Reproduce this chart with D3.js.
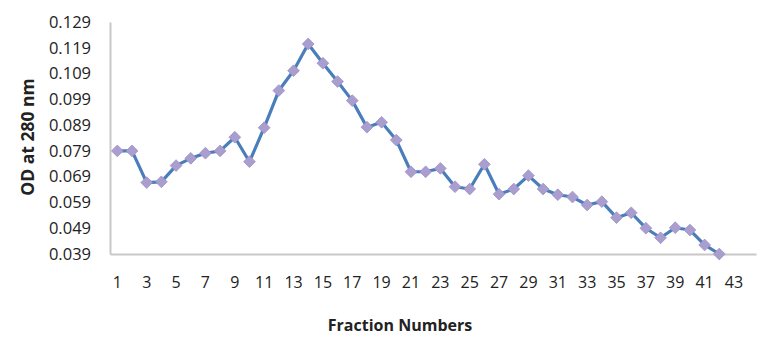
<!DOCTYPE html>
<html>
<head>
<meta charset="utf-8">
<script src="https://cdn.jsdelivr.net/npm/d3@7"></script>
<style>
  body { margin: 0; background: #fff; }
  text { font-family: "Open Sans", "Liberation Sans", sans-serif; fill: #222; }
</style>
</head>
<body>
<svg id="chart" width="768" height="342"></svg>
<script>
// fraction numbers (axis has one extra empty slot, like the Excel original)
var fractions = d3.range(1, 45);
var od = [0.079, 0.079, 0.0667, 0.067, 0.0733, 0.0761, 0.0781, 0.079, 0.0843, 0.0748,
          0.088, 0.1024, 0.1101, 0.1205, 0.113, 0.1059, 0.0985, 0.0882, 0.0901, 0.0832,
          0.0709, 0.0709, 0.0722, 0.0651, 0.0642, 0.0738, 0.0622, 0.0642, 0.0694, 0.0642,
          0.062, 0.0611, 0.058, 0.0593, 0.0531, 0.055, 0.049, 0.0453, 0.0492, 0.0483,
          0.0425, 0.039];
var yTicks = [0.039, 0.049, 0.059, 0.069, 0.079, 0.089, 0.099, 0.109, 0.119, 0.129];
var xTickLabels = d3.range(1, 44, 2);

var svg = d3.select("#chart");
var plotLeft = 110, plotRight = 756, plotTop = 22, plotBottom = 254;

var x = d3.scaleBand()
    .domain(fractions)
    .range([plotLeft, plotRight]);

var y = d3.scaleLinear()
    .domain([0.039, 0.129])
    .range([plotBottom, plotTop]);

// axes
var yAxis = svg.append("g")
    .attr("transform", "translate(" + plotLeft + ",0)")
    .call(d3.axisLeft(y).tickValues(yTicks).tickSize(0).tickPadding(19).tickFormat(d3.format(".3f")));
yAxis.select(".domain").attr("stroke", "#c8c8c8").attr("stroke-width", 2);
yAxis.selectAll("text").style("font-size", "16.5px").attr("fill", "#333");

var xAxis = svg.append("g")
    .attr("transform", "translate(0," + plotBottom + ")")
    .call(d3.axisBottom(x).tickValues(xTickLabels).tickSize(0).tickPadding(23));
xAxis.select(".domain").attr("stroke", "#c8c8c8").attr("stroke-width", 2);
xAxis.selectAll("text").style("font-size", "16px").attr("fill", "#333");

// line
var line = d3.line()
    .x(function(d, i) { return x(fractions[i]) + x.bandwidth() / 2; })
    .y(function(d) { return y(d); });

svg.append("path")
    .datum(od)
    .attr("fill", "none")
    .attr("stroke", "#4a7ebb")
    .attr("stroke-width", 3.2)
    .attr("stroke-linejoin", "round")
    .attr("d", line);

// diamond markers
svg.selectAll(".dot")
    .data(od)
    .enter().append("path")
    .attr("class", "dot")
    .attr("d", d3.symbol().type(d3.symbolDiamond2).size(88))
    .attr("transform", function(d, i) {
        return "translate(" + (x(fractions[i]) + x.bandwidth() / 2) + "," + y(d) + ")";
    })
    .attr("fill", "#aa9ecf")
    .attr("stroke", "#9c91c7")
    .attr("stroke-width", 0.8);

// titles
svg.append("text")
    .attr("x", 400)
    .attr("y", 331)
    .attr("text-anchor", "middle")
    .style("font-size", "16px")
    .style("font-weight", "bold")
    .text("Fraction Numbers");

svg.append("text")
    .attr("transform", "translate(34,137) rotate(-90)")
    .attr("text-anchor", "middle")
    .style("font-size", "17.5px")
    .style("font-weight", "bold")
    .text("OD at 280 nm");
</script>
</body>
</html>
